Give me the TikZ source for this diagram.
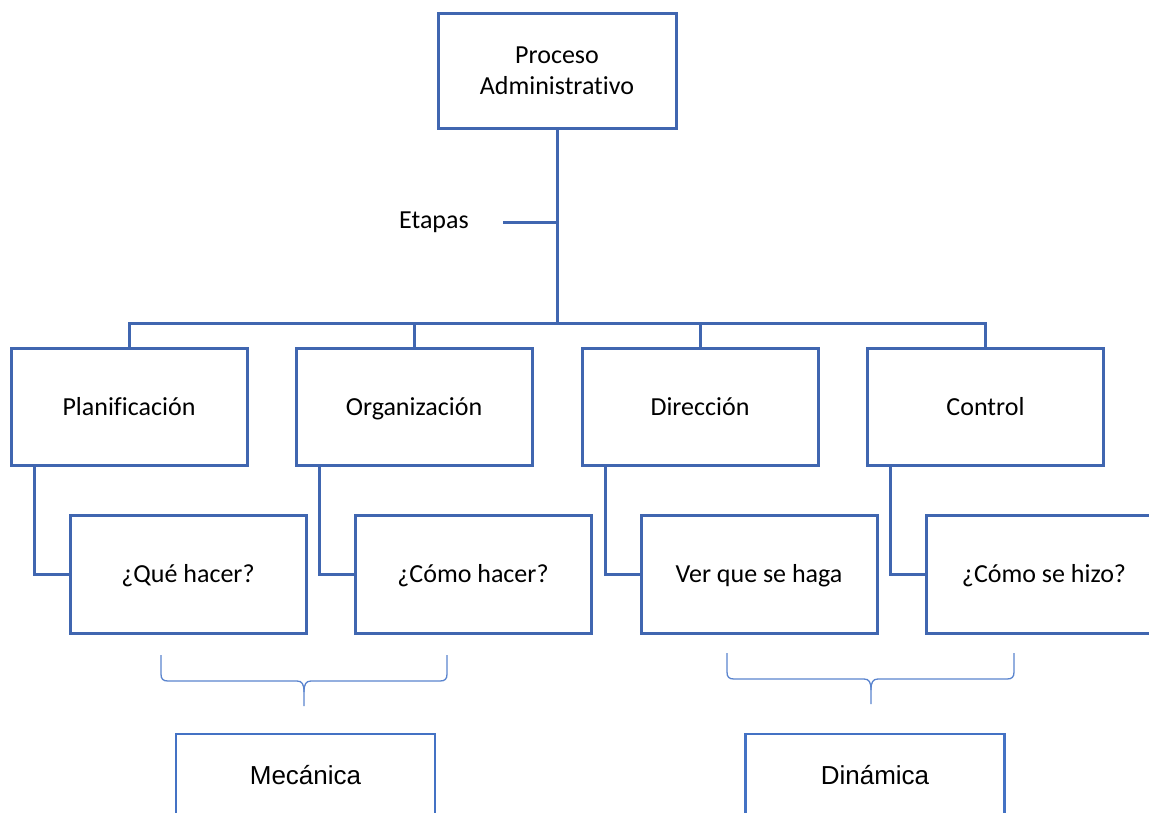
\documentclass[tikz,border=0pt]{standalone}
\usepackage{fontspec}
\setmainfont{Carlito}[Ligatures=NoCommon]
\newfontfamily\arialfont{Liberation Sans}
\definecolor{boxblue}{RGB}{64,102,176}
\definecolor{lightblue}{RGB}{68,114,196}
\definecolor{braceblue}{RGB}{90,132,206}
\begin{document}
\begin{tikzpicture}[x=1pt,y=-1pt,
  box/.style={draw=boxblue, line width=3pt, fill=white, outer sep=0pt,
    inner sep=0pt, align=center, font=\fontsize{26}{31}\selectfont},
  onelinebox/.style={box, text height=20pt, text depth=3pt},
  stagebox/.style={onelinebox, minimum width=236pt, minimum height=117pt},
  qbox/.style={onelinebox, minimum width=236pt, minimum height=118pt},
  groupbox/.style={draw=lightblue, line width=2.6pt, fill=white, outer sep=0pt,
    inner sep=0pt, text height=21pt, text depth=3pt,
    minimum width=259pt, minimum height=82pt, font=\arialfont\fontsize{26}{31}\selectfont},
  link/.style={draw=boxblue, line width=3pt},
  bracestyle/.style={draw=braceblue, line width=1.3pt}]
\useasboundingbox (0,0) rectangle (1149,812);
\clip (0,0) rectangle (1149,812);

% root
\node[box, minimum width=238pt, minimum height=115pt] (top) at (557,70.5)
  {Proceso\\Administrativo};

% stages
\node[stagebox] (plan) at (129,406.5) {Planificación};
\node[stagebox] (org)  at (414,406.5) {Organización};
\node[stagebox] (dir)  at (700,406.5) {Dirección};
\node[stagebox] (ctrl) at (985.5,406.5) {Control};

% questions
\node[qbox] (que)  at (188,574) {¿Qué hacer?};
\node[qbox] (como) at (473,574) {¿Cómo hacer?};
\node[qbox] (ver)  at (759,574) {Ver que se haga};
\node[qbox] (hizo) at (1044,574) {¿Cómo se hizo?};

% groups (run past the lower edge)
\node[groupbox] (mec) at (305.5,775) {Mecánica};
\node[groupbox] (din) at (875,775) {Dinámica};

% tree connectors
\coordinate (bus) at (557,323);
\draw[link] (top.south) -- (bus);
\foreach \s in {plan,org,dir,ctrl}
  \draw[link] (bus) -| (\s.north);

% label on the stem
\node[font=\fontsize{26}{31}\selectfont, inner sep=0pt] (etapas) at (434,222) {Etapas};
\coordinate (etl) at (503,222);
\draw[link] (etl) -- (etl -| top.south);

% stage to question links
\draw[link] ([xshift=23pt]plan.south west) |- (que.west);
\draw[link] ([xshift=23pt]org.south west)  |- (como.west);
\draw[link] ([xshift=23pt]dir.south west)  |- (ver.west);
\draw[link] ([xshift=23pt]ctrl.south west) |- (hizo.west);

% braces
\draw[bracestyle] (161,655) -- (161,674) .. controls (161,679) and (163,681) .. (168,681)
  -- (297,681) .. controls (302,681) and (304,684) .. (304,692) -- (304,706);
\draw[bracestyle] (447,655) -- (447,674) .. controls (447,679) and (445,681) .. (440,681)
  -- (311,681) .. controls (306,681) and (304,684) .. (304,692);
\draw[bracestyle] (727,653) -- (727,672) .. controls (727,677) and (729,679) .. (734,679)
  -- (864,679) .. controls (869,679) and (871,682) .. (871,690) -- (871,704);
\draw[bracestyle] (1014,653) -- (1014,672) .. controls (1014,677) and (1012,679) .. (1007,679)
  -- (878,679) .. controls (873,679) and (871,682) .. (871,690);
\end{tikzpicture}
\end{document}
